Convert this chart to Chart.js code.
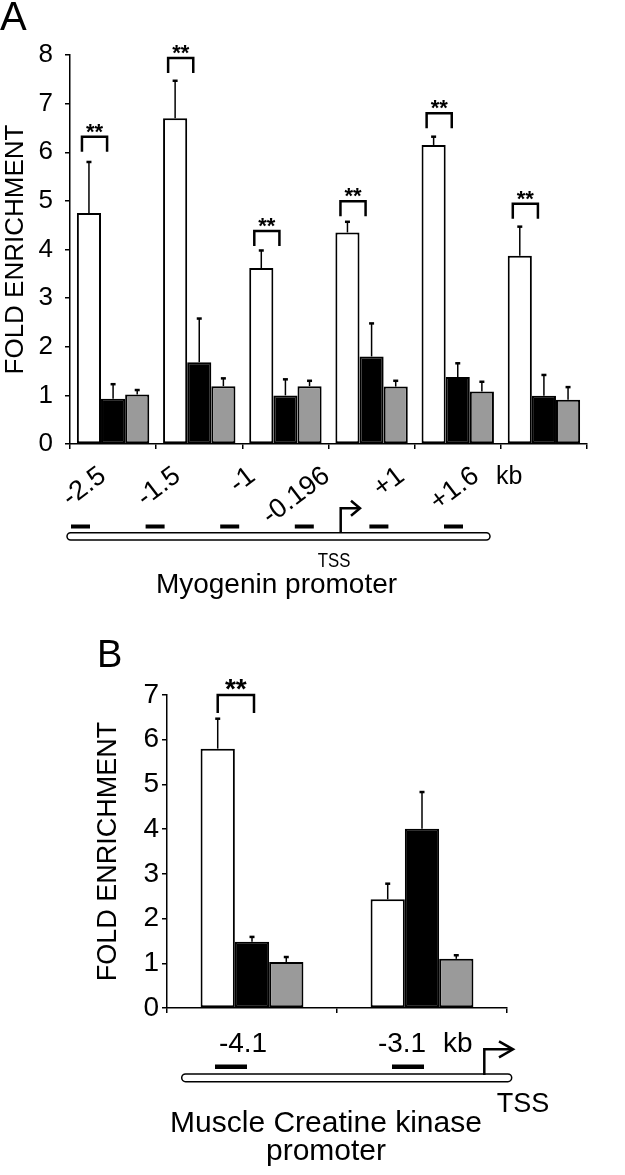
<!DOCTYPE html>
<html>
<head>
<meta charset="utf-8">
<script src="https://cdn.jsdelivr.net/npm/chart.js@4.4.1/dist/chart.umd.min.js"></script>
<style>
  body { margin: 0; background: #fff; }
  #wrap { position: relative; width: 625px; height: 1175px; }
  #chartA { position: absolute; left: 0; top: 0; }
  #chartB { position: absolute; left: 0; top: 620px; }
</style>
</head>
<body>
<div id="wrap">
  <canvas id="chartA" width="625" height="620"></canvas>
  <canvas id="chartB" width="625" height="555"></canvas>
</div>
<script>
// ---- data ----
// panel A: myogenin promoter
const sitesA = ['-2.5', '-1.5', '-1', '-0.196', '+1', '+1.6'];
const whiteA = [4.75, 6.70, 3.62, 4.35, 6.15, 3.87];
const whiteErrA = [1.05, 0.77, 0.36, 0.22, 0.17, 0.60];
const blackA = [0.93, 1.68, 1.00, 1.80, 1.38, 0.99];
const blackErrA = [0.30, 0.90, 0.33, 0.68, 0.28, 0.43];
const grayA = [1.02, 1.19, 1.19, 1.18, 1.08, 0.91];
const grayErrA = [0.09, 0.16, 0.11, 0.12, 0.20, 0.26];
const sigTopA = [6.32, 7.94, 4.38, 4.99, 6.80, 4.94];
const yTicksA = { min: 0, max: 8, step: 1 };

// panel B: muscle creatine kinase promoter
const sitesB = ['-4.1', '-3.1'];
const whiteB = [5.80, 2.43];
const whiteErrB = [0.67, 0.35];
const blackB = [1.48, 4.01];
const blackErrB = [0.11, 0.82];
const grayB = [1.03, 1.10];
const grayErrB = [0.11, 0.08];
const sigTopB = [7.0, null];
const yTicksB = { min: 0, max: 7, step: 1 };

const FONT = "'Liberation Sans', Arial, Helvetica, sans-serif";
const GRAY = '#9a9a9a';

// upward error bars from dataset.errors
const errorBars = {
  id: 'errorBars',
  afterDatasetsDraw(chart) {
    const ctx = chart.ctx;
    const yScale = chart.scales.y;
    ctx.save();
    ctx.strokeStyle = '#000';
    chart.data.datasets.forEach((ds, d) => {
      const meta = chart.getDatasetMeta(d);
      meta.data.forEach((bar, i) => {
        const top = yScale.getPixelForValue(ds.data[i] + ds.errors[i]);
        ctx.lineWidth = 1.5;
        ctx.beginPath();
        ctx.moveTo(bar.x, bar.y);
        ctx.lineTo(bar.x, top);
        ctx.stroke();
        ctx.lineWidth = 2.5;
        ctx.beginPath();
        ctx.moveTo(bar.x - 2.5, top);
        ctx.lineTo(bar.x + 2.5, top);
        ctx.stroke();
      });
    });
    ctx.restore();
  }
};

// ** brackets between first and second bar
const sigBrackets = {
  id: 'sigBrackets',
  afterDatasetsDraw(chart, args, opts) {
    const ctx = chart.ctx;
    const yScale = chart.scales.y;
    const white = chart.getDatasetMeta(0).data;
    const black = chart.getDatasetMeta(1).data;
    ctx.save();
    ctx.strokeStyle = '#000';
    ctx.fillStyle = '#000';
    ctx.lineWidth = 2.5;
    ctx.font = opts.font;
    ctx.textAlign = 'center';
    ctx.textBaseline = 'alphabetic';
    opts.tops.forEach((v, i) => {
      if (v == null) return;
      const y = yScale.getPixelForValue(v);
      const x0 = white[i].x + opts.shiftL;
      const x1 = black[i].x + opts.shiftR;
      ctx.beginPath();
      ctx.moveTo(x0, y + opts.depth);
      ctx.lineTo(x0, y);
      ctx.lineTo(x1, y);
      ctx.lineTo(x1, y + opts.depth);
      ctx.stroke();
      ctx.fillText('**', (x0 + x1) / 2, y + opts.starGap);
    });
    ctx.restore();
  }
};

function promoterBar(ctx, x0, x1, y0, h) {
  ctx.beginPath();
  ctx.roundRect(x0, y0, x1 - x0, h, h / 2);
  ctx.fillStyle = '#fff';
  ctx.fill();
  ctx.lineWidth = 1.5;
  ctx.strokeStyle = '#000';
  ctx.stroke();
}

function tssArrow(ctx, x, yBase, yTop, xTip, head, back) {
  ctx.strokeStyle = '#000';
  ctx.lineWidth = 2.5;
  ctx.beginPath();
  ctx.moveTo(x, yBase);
  ctx.lineTo(x, yTop);
  ctx.lineTo(xTip - 1, yTop);
  ctx.stroke();
  ctx.beginPath();
  ctx.moveTo(xTip - back, yTop - head);
  ctx.lineTo(xTip, yTop);
  ctx.lineTo(xTip - back, yTop + head);
  ctx.stroke();
}

// panel A: letter, site labels and myogenin promoter map
const mapA = {
  id: 'mapA',
  afterDraw(chart) {
    const ctx = chart.ctx;
    ctx.save();
    ctx.fillStyle = '#000';
    ctx.font = '40px ' + FONT;
    ctx.textAlign = 'left';
    ctx.textBaseline = 'alphabetic';
    ctx.fillText('A', 0, 30);

    const step = 74.6;
    const first = 80.5;
    ctx.font = '27px ' + FONT;
    sitesA.forEach((s, i) => {
      const cx = first + step * i;
      ctx.save();
      ctx.translate(cx + 27, 479);
      ctx.rotate(-37 * Math.PI / 180);
      ctx.textAlign = 'right';
      ctx.fillText(s, 0, 0);
      ctx.restore();
    });
    ctx.font = '25px ' + FONT;
    ctx.textAlign = 'left';
    ctx.fillText('kb', 496, 484);

    promoterBar(ctx, 67, 490, 532.7, 7.3);
    ctx.fillStyle = '#000';
    sitesA.forEach((s, i) => {
      const cx = first + step * i;
      ctx.fillRect(cx - 9.5, 524.5, 19, 4);
    });
    tssArrow(ctx, 340.7, 533, 508.3, 360, 7.5, 9);

    ctx.save();
    ctx.translate(334, 567);
    ctx.scale(0.8, 1);
    ctx.font = '21px ' + FONT;
    ctx.textAlign = 'center';
    ctx.fillText('TSS', 0, 0);
    ctx.restore();

    ctx.font = '28px ' + FONT;
    ctx.textAlign = 'center';
    ctx.fillText('Myogenin promoter', 276.5, 593);
    ctx.restore();
  }
};

// panel B: letter, site labels and MCK promoter map
const mapB = {
  id: 'mapB',
  afterDraw(chart) {
    const ctx = chart.ctx;
    ctx.save();
    ctx.fillStyle = '#000';
    ctx.font = '38px ' + FONT;
    ctx.textAlign = 'left';
    ctx.textBaseline = 'alphabetic';
    ctx.fillText('B', 97, 47);

    const dashX = [231, 408];
    const labelX = [243, 402];
    ctx.font = '28px ' + FONT;
    ctx.textAlign = 'center';
    sitesB.forEach((s, i) => ctx.fillText(s, labelX[i], 432));
    ctx.textAlign = 'left';
    ctx.fillText('kb', 443, 432);

    promoterBar(ctx, 181.7, 511.7, 454, 7.7);
    ctx.fillStyle = '#000';
    dashX.forEach(cx => ctx.fillRect(cx - 16, 444.5, 32, 4.5));
    tssArrow(ctx, 484.3, 455, 429.3, 513, 8, 14);

    ctx.font = '27px ' + FONT;
    ctx.textAlign = 'left';
    ctx.fillText('TSS', 496.7, 492);

    ctx.font = '30px ' + FONT;
    ctx.textAlign = 'center';
    ctx.fillText('Muscle Creatine kinase', 326, 511.7);
    ctx.fillText('promoter', 326, 540);
    ctx.restore();
  }
};

function bars(white, whiteErr, black, blackErr, gray, grayErr) {
  const common = { borderColor: '#000', borderWidth: 2, borderSkipped: false };
  return [
    Object.assign({ label: 'white', data: white, errors: whiteErr, backgroundColor: '#fff' }, common),
    Object.assign({ label: 'black', data: black, errors: blackErr, backgroundColor: '#000' }, common),
    Object.assign({ label: 'gray', data: gray, errors: grayErr, backgroundColor: GRAY }, common)
  ];
}

function makeChart(id, cfg) {
  return new Chart(document.getElementById(id), {
    type: 'bar',
    data: { labels: cfg.labels, datasets: cfg.datasets },
    options: {
      responsive: false,
      animation: false,
      events: [],
      layout: { padding: cfg.padding },
      datasets: { bar: { categoryPercentage: cfg.catPct, barPercentage: 1 } },
      plugins: {
        legend: { display: false },
        tooltip: { enabled: false },
        sigBrackets: cfg.sig
      },
      scales: {
        x: {
          ticks: { display: false },
          grid: { drawOnChartArea: false, drawTicks: true, tickLength: 5, color: '#000', lineWidth: 1.5, offset: true },
          border: { color: '#000', width: 1.5 },
          afterFit: s => { s.height = cfg.xHeight; }
        },
        y: {
          min: cfg.yTicks.min,
          max: cfg.yTicks.max,
          ticks: { stepSize: cfg.yTicks.step, color: '#000', padding: cfg.tickPad, font: { family: FONT, size: cfg.tickSize } },
          grid: { drawOnChartArea: false, drawTicks: true, tickLength: 5, color: '#000', lineWidth: 1.5 },
          border: { color: '#000', width: 1.5 },
          title: {
            display: true, text: 'FOLD ENRICHMENT', color: '#000',
            font: { family: FONT, size: cfg.titleSize }, padding: { top: cfg.titlePad, bottom: 0 }
          },
          afterFit: s => { s.width = cfg.yWidth; }
        }
      }
    },
    plugins: [errorBars, sigBrackets, cfg.map]
  });
}

makeChart('chartA', {
  labels: sitesA,
  datasets: bars(whiteA, whiteErrA, blackA, blackErrA, grayA, grayErrA),
  padding: { top: 55, right: 38, left: 0, bottom: 0 },
  catPct: 0.84,
  xHeight: 176,
  yWidth: 70,
  yTicks: yTicksA,
  tickSize: 26,
  tickPad: 12,
  titleSize: 26,
  titlePad: 0.5,
  sig: { tops: sigTopA, shiftL: -7, shiftR: -6, depth: 15, starGap: 2, font: 'bold 22px ' + FONT },
  map: mapA
});

makeChart('chartB', {
  labels: sitesB,
  datasets: bars(whiteB, whiteErrB, blackB, blackErrB, grayB, grayErrB),
  padding: { top: 75, right: 118, left: 80, bottom: 0 },
  catPct: 0.605,
  xHeight: 167,
  yWidth: 87,
  yTicks: yTicksB,
  tickSize: 28,
  tickPad: 3,
  titleSize: 27,
  titlePad: 12,
  sig: { tops: sigTopB, shiftL: 0, shiftR: 2, depth: 18, starGap: 3, font: 'bold 28px ' + FONT },
  map: mapB
});
</script>
</body>
</html>
